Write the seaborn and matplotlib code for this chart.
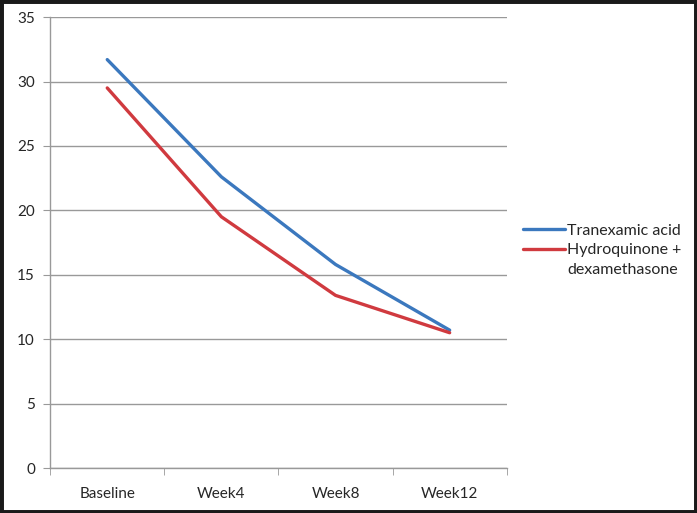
import matplotlib
matplotlib.use('Agg')
import matplotlib.pyplot as plt
import matplotlib.patches as patches
from matplotlib.lines import Line2D
import numpy as np
import pandas as pd
import seaborn as sb

# values
visits = ['Baseline', 'Week4', 'Week8', 'Week12']
tranexamic = [31.7, 22.6, 15.8, 10.7]
hydroquinone = [29.5, 19.5, 13.4, 10.5]
series_names = ['Tranexamic acid', 'Hydroquinone +']
colors = ['#3B78BE', '#D03A3F']

df = pd.DataFrame({
    'visit': visits * 2,
    'score': tranexamic + hydroquinone,
    'group': [series_names[0]] * 4 + [series_names[1]] * 4,
})

sb.set_style('white')
plt.rcParams['font.family'] = ['Lato', 'DejaVu Sans']

fig = plt.figure(figsize=(6.97, 5.13), dpi=100)
ax = fig.add_axes([0.072, 0.0877, 0.655, 0.879])

sb.lineplot(data=df, x='visit', y='score', hue='group', sort=False,
            palette=colors, linewidth=2.4, ax=ax)

ax.set_xlim(-0.5, 3.5)
ax.set_ylim(0, 35)
ax.set_yticks(np.arange(0, 36, 5))
ax.set_xticks(range(4))
ax.set_xticklabels(visits)
ax.set_xticks(np.arange(-0.5, 4, 1), minor=True)
ax.tick_params(axis='x', which='major', length=0, pad=14, labelsize=11)
ax.tick_params(axis='x', which='minor', length=5, color='#999999', direction='out', bottom=True)
ax.tick_params(axis='y', length=5, color='#999999', direction='out', left=True, labelsize=11, pad=6)
ax.yaxis.grid(True, color='#999999', linewidth=1)
ax.set_axisbelow(True)
for side in ['top', 'right']:
    ax.spines[side].set_visible(False)
for side in ['left', 'bottom']:
    ax.spines[side].set_color('#999999')
    ax.spines[side].set_linewidth(1)
ax.set_xlabel('')
ax.set_ylabel('')

# legend like Excel: second label wraps onto a line with no key
handles, labels = ax.get_legend_handles_labels()
handles.append(Line2D([], [], color='none'))
labels.append('dexamethasone')
ax.legend(handles, labels, loc='center left', bbox_to_anchor=(1.005, 0.483), frameon=False,
          fontsize=11.5, handlelength=2.6, handletextpad=0.15, labelspacing=0.33)

# black frame round the picture
fig.patches.append(patches.Rectangle((0, 0), 1, 1, transform=fig.transFigure,
                                     fill=False, edgecolor='#1a1a1a', linewidth=5))

fig.savefig('out.png', dpi=100)
